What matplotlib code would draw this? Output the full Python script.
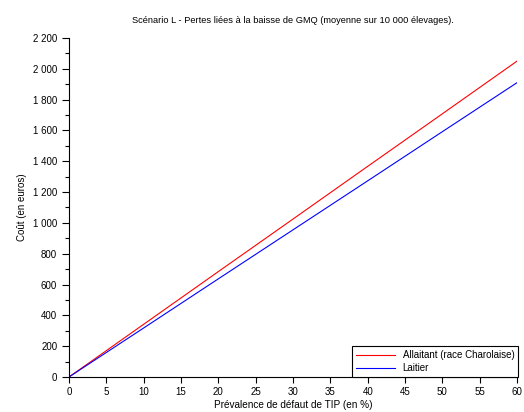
import matplotlib
matplotlib.use("Agg")
import matplotlib.pyplot as plt
from matplotlib.ticker import MultipleLocator, FuncFormatter

# prévalence (%) et coûts (euros)
prevalence = [0, 10, 20, 30, 40, 50, 60]
allaitant = [0, 342, 684, 1025, 1367, 1708, 2050]
laitier = [0, 318, 637, 955, 1273, 1592, 1910]

plt.rcParams['font.family'] = ['Liberation Sans', 'DejaVu Sans']
plt.rcParams['font.size'] = 7

fig = plt.figure(figsize=(5.24, 4.12), dpi=100)
ax = fig.add_axes([0.1317, 0.085, 0.855, 0.8228])

ax.plot(prevalence, allaitant, color='#ff0000', lw=0.8, label='Allaitant (race Charolaise)')
ax.plot(prevalence, laitier, color='#0000ff', lw=0.8, label='Laitier')

ax.set_xlim(0, 60)
ax.set_ylim(0, 2200)
ax.xaxis.set_major_locator(MultipleLocator(5))
ax.yaxis.set_major_locator(MultipleLocator(200))
ax.yaxis.set_minor_locator(MultipleLocator(100))
ax.yaxis.set_major_formatter(FuncFormatter(lambda v, p: f"{int(v):,}".replace(",", " ")))
ax.tick_params(which='major', direction='out', length=5, width=0.8)
ax.tick_params(axis='x', which='major', length=4)
ax.tick_params(which='minor', direction='out', length=3, width=0.8)
ax.spines['top'].set_visible(False)
ax.spines['right'].set_visible(False)

ax.set_xlabel("Prévalence de défaut de TIP (en %)", labelpad=2, fontsize=7.2)
ax.set_ylabel("Coût (en euros)", labelpad=4)
ax.set_title("Scénario L - Pertes liées à la baisse de GMQ (moyenne sur 10 000 élevages).",
             pad=11, fontsize=6.7)

leg = ax.legend(loc='lower right', borderaxespad=0, fancybox=False, framealpha=1,
                edgecolor='black', handlelength=4, borderpad=0.4, labelspacing=0.3,
                bbox_to_anchor=(1.003, 0))
leg.get_frame().set_linewidth(0.8)

plt.savefig("out.png", dpi=100)
